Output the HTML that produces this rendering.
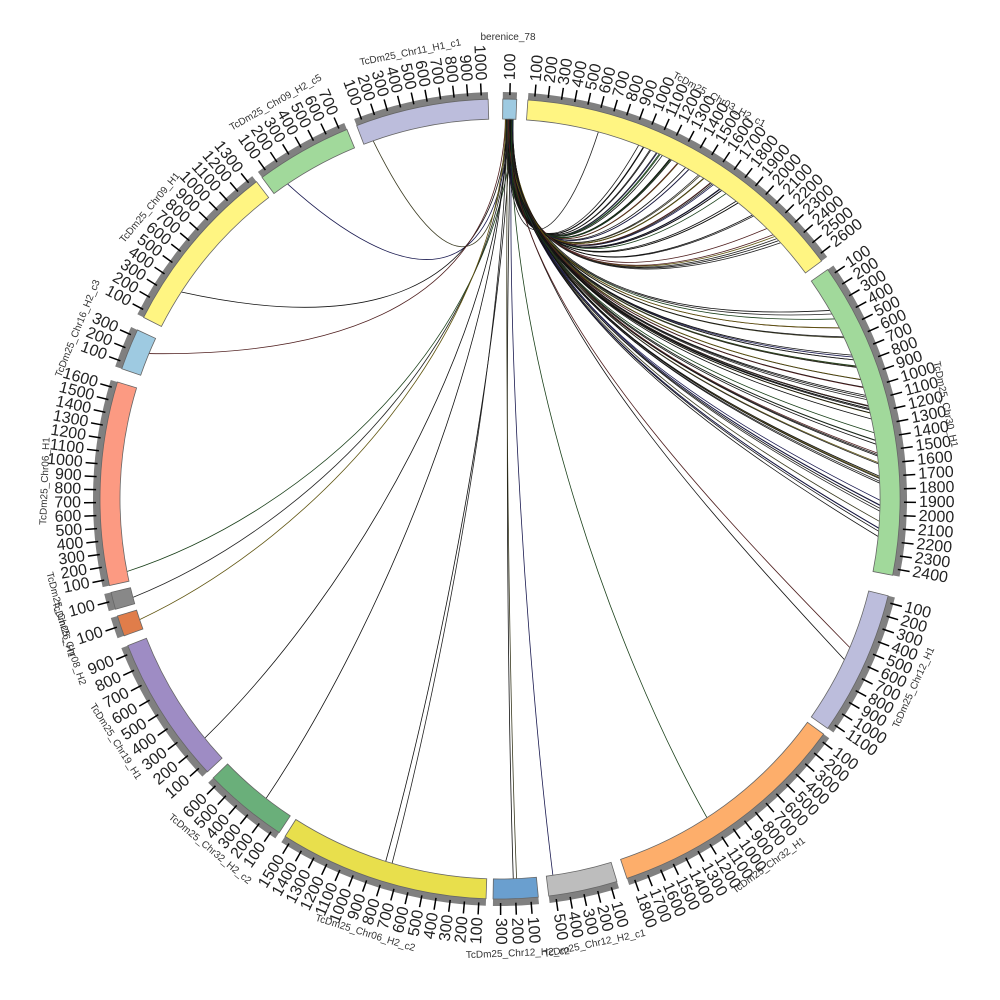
<!DOCTYPE html>
<html><head><meta charset="utf-8">
<style>
html,body{margin:0;padding:0;background:#fff;}
svg{display:block;}
text{font-family:"Liberation Sans","DejaVu Sans",sans-serif;}
</style></head>
<body>
<svg id="s" width="1000" height="1000" viewBox="0 0 1000 1000" xmlns="http://www.w3.org/2000/svg">
<g id="links" fill="none"></g>
<g id="ideo"></g>
<g id="lab"></g>
</svg>
<script>
var CX=500,CY=499;
var segs=[
["berenice_78",0.4,2.4,100,"#9ecae1"],
["TcDm25_Chr03_H2_c1",4,53.5,2600,"#fff582"],
["TcDm25_Chr30_H1",55,101,2400,"#a1d99b"],
["TcDm25_Chr12_H1",104,125,1100,"#bcbddc"],
["TcDm25_Chr32_H1",126,161.5,1800,"#fdae6b"],
["TcDm25_Chr12_H2_c1",163,173,500,"#bdbdbd"],
["TcDm25_Chr12_H2_c2",174.5,181,300,"#6a9fcf"],
["TcDm25_Chr06_H2_c2",182,212.5,1500,"#e8df4c"],
["TcDm25_Chr32_H2_c2",213.5,225.8,600,"#6aaf7a"],
["TcDm25_Chr19_H1",227,248.5,900,"#9e8cc4"],
["TcDm25_Chr08_H2",250,253,100,"#e07d4a"],
["TcDm25_Chr26_H1",254,256.5,100,"#888888"],
["TcDm25_Chr06_H1",257.5,287,1600,"#fc9a82"],
["TcDm25_Chr16_H2_c3",289,295,300,"#9ecae1"],
["TcDm25_Chr09_H1",297,322.5,1300,"#fff582"],
["TcDm25_Chr09_H2_c5",323.5,337.5,700,"#a1d99b"],
["TcDm25_Chr11_H1_c1",339,358.3,1000,"#bcbddc"]
];
function P(t,r){var a=t*Math.PI/180;return [CX+r*Math.sin(a),CY-r*Math.cos(a)];}
function arc(a0,a1,r0,r1){var p1=P(a0,r1),p2=P(a1,r1),p3=P(a1,r0),p4=P(a0,r0);var l=(a1-a0)>180?1:0;
return "M"+p1+" A"+r1+","+r1+" 0 "+l+" 1 "+p2+" L"+p3+" A"+r0+","+r0+" 0 "+l+" 0 "+p4+"Z";}
var ide="",lab="";
segs.forEach(function(s){
 var a0=s[1],a1=s[2];
 ide+='<path d="'+arc(a0,a1,400,407)+'" fill="#808080"/>';
 ide+='<path d="'+arc(a0,a1,380,400)+'" fill="'+s[4]+'" stroke="#666" stroke-width="0.8"/>';
 var n=Math.round(s[3]/100);
 for(var i=1;i<=n;i++){
  var t=a0+(a1-a0)*(i-0.5)/n; if(n==1)t=(a0+a1)/2;
  var q1=P(t,404),q2=P(t,416);
  ide+='<line x1="'+q1[0]+'" y1="'+q1[1]+'" x2="'+q2[0]+'" y2="'+q2[1]+'" stroke="#000" stroke-width="1.5"/>';
  var q=P(t,419),rot=t-90,anc="start";
  if(t>180&&t<360){rot=t+90;anc="end";}
  lab+='<text x="'+q[0]+'" y="'+q[1]+'" font-size="16" fill="#222" text-anchor="'+anc+'" dominant-baseline="central" transform="rotate('+rot+' '+q[0]+' '+q[1]+')">'+(i*100)+'</text>';
 }
 var tm=(a0+a1)/2,rr=455;
 if(s[0]=="berenice_78"){lab+='<text x="508" y="40" font-size="10" fill="#333" text-anchor="middle">berenice_78</text>';return;}
 var q=P(tm,rr),rot=tm;if(tm>90&&tm<270)rot=tm+180;
 lab+='<text x="'+q[0]+'" y="'+q[1]+'" font-size="10" fill="#333" text-anchor="middle" dominant-baseline="central" transform="rotate('+rot+' '+q[0]+' '+q[1]+')">'+s[0]+'</text>';
});
document.getElementById("ideo").innerHTML=ide;
document.getElementById("lab").innerHTML=lab;
var L="",cols=["#111","#111","#222","#111","#3a3a20","#1a1a50","#111","#502020","#1a401a","#222","#605510","#111"];
var seed=7;function rnd(){seed=(seed*9301+49297)%233280;return seed/233280;}
var ends=[];
for(var i=0;i<45;i++)ends.push(20+rnd()*28);
for(var i=0;i<55;i++)ends.push(60+rnd()*36);
ends=ends.concat([340.5,326,303,292.5,259,255,251.5,231,218,197.5,196.5,178,177.5,172,115,113,147,15]);
ends.forEach(function(t,k){
 var b=P(0.8+rnd()*1.2,380),e=P(t,380);
 var c1,c2,M;
 if(t<120){M=[535,305];c1=[505,270];c2=[e[0]*0.35+M[0]*0.65,e[1]*0.35+M[1]*0.65+15];}
 else if(t>280){M=[480,325];c1=[500,300];c2=[e[0]*0.4+M[0]*0.6,e[1]*0.4+M[1]*0.6+20];}
 else {c1=[505,330];c2=[e[0]*0.5+500*0.5,e[1]*0.5+450*0.5];}
 var col=cols[k%cols.length];
 L+='<path d="M'+b+' C'+c1+' '+c2+' '+e+'" stroke="'+col+'" stroke-width="0.8"/>';
});
document.getElementById("links").innerHTML=L;
</script>
</body></html>
